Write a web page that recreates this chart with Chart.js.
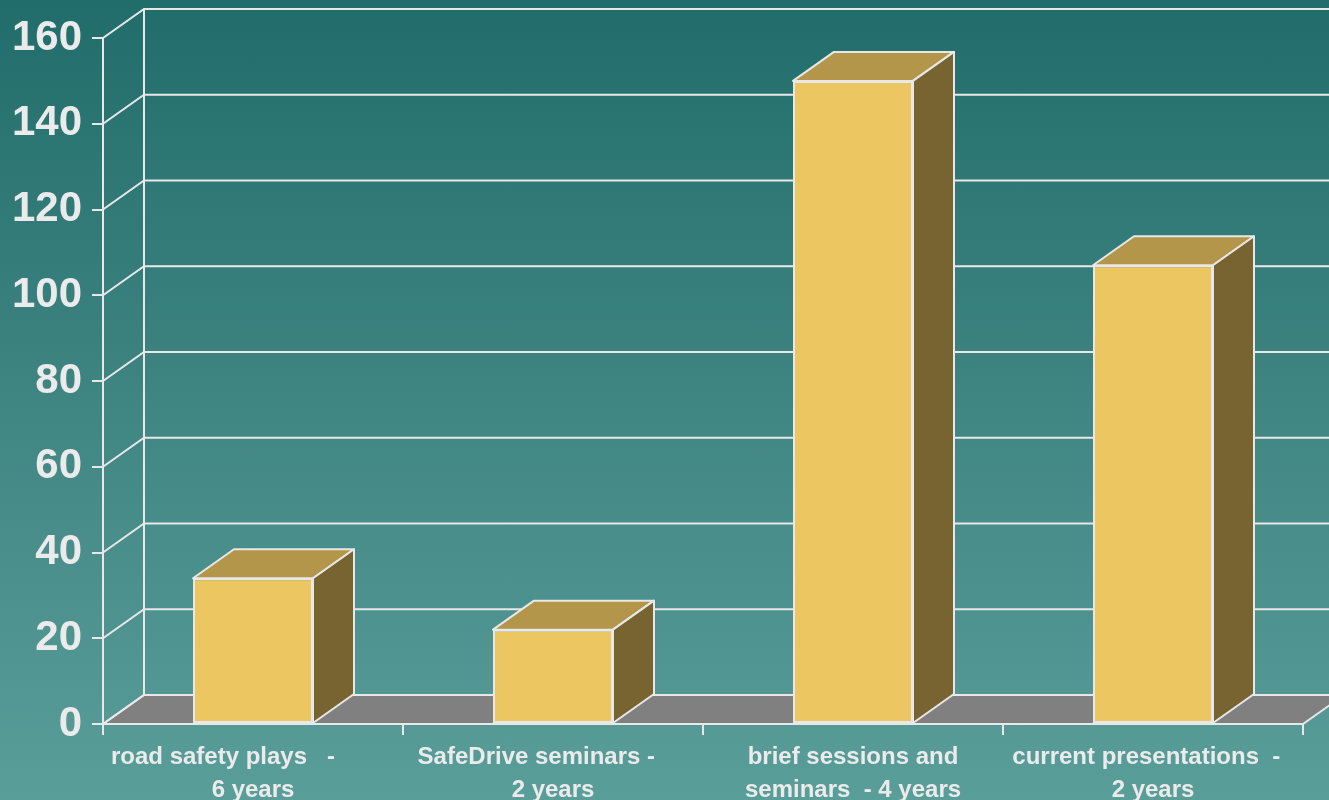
<!DOCTYPE html>
<html>
<head>
<meta charset="utf-8">
<script src="https://cdn.jsdelivr.net/npm/chart.js@4/dist/chart.umd.min.js"></script>
<style>
    html, body { margin: 0; padding: 0; }
    body { width: 1329px; height: 800px; overflow: hidden;
           background: linear-gradient(to bottom, #216d6b 0%, #3f8582 50%, #5a9e9a 100%); }
    canvas { display: block; }
</style>
</head>
<body>
<canvas id="chart" width="1329" height="800"></canvas>
<script>
// chart values
const categories = [
    ['road safety plays   -         ', '6 years'],
    ['SafeDrive seminars -     ', '2 years'],
    ['brief sessions and', 'seminars  - 4 years'],
    ['current presentations  -  ', '2 years']
];
const counts = [34, 22, 150, 107];
const yMin = 0;
const yMax = 160;
const yStep = 20;

const DX = 41, DY = -29;            // depth of the 3D box
const LINE = '#e8e8e8';
const FRONT = '#ecc660', TOP = '#b4964a', SIDE = '#786430', FLOOR = '#808080';

function poly(ctx, pts, fill) {
    ctx.beginPath();
    ctx.moveTo(pts[0][0], pts[0][1]);
    for (let i = 1; i < pts.length; i++) ctx.lineTo(pts[i][0], pts[i][1]);
    ctx.closePath();
    if (fill) { ctx.fillStyle = fill; ctx.fill(); }
    ctx.stroke();
}

const box3d = {
    id: 'box3d',
    beforeDatasetsDraw(chart) {
        const ctx = chart.ctx;
        const { left, right, top, bottom } = chart.chartArea;
        const y = chart.scales.y;
        ctx.save();
        ctx.strokeStyle = LINE;
        ctx.lineWidth = 2;
        // floor
        poly(ctx, [[left, bottom], [right, bottom], [right + DX, bottom + DY], [left + DX, bottom + DY]], FLOOR);
        // back wall grid + diagonals
        y.ticks.forEach(t => {
            const py = y.getPixelForValue(t.value);
            ctx.beginPath();
            ctx.moveTo(left, py);
            ctx.lineTo(left + DX, py + DY);
            ctx.lineTo(chart.width + 5, py + DY);
            ctx.stroke();
        });
        ctx.beginPath();
        ctx.moveTo(left + DX, top + DY);
        ctx.lineTo(left + DX, bottom + DY);
        ctx.stroke();
        ctx.restore();
    },
    afterDatasetsDraw(chart) {
        const ctx = chart.ctx;
        ctx.save();
        ctx.strokeStyle = LINE;
        ctx.lineWidth = 2;
        ctx.lineJoin = 'round';
        chart.getDatasetMeta(0).data.forEach(bar => {
            const l = bar.x - bar.width / 2, r = bar.x + bar.width / 2;
            const t = bar.y, b = bar.base;
            poly(ctx, [[l, t], [r, t], [r + DX, t + DY], [l + DX, t + DY]], TOP);
            poly(ctx, [[r, t], [r + DX, t + DY], [r + DX, b + DY], [r, b]], SIDE);
        });
        ctx.restore();
    }
};

new Chart(document.getElementById('chart'), {
    type: 'bar',
    data: {
        labels: categories,
        datasets: [{
            data: counts,
            backgroundColor: FRONT,
            borderColor: LINE,
            borderWidth: 2,
            borderSkipped: false,
            categoryPercentage: 1,
            barPercentage: 0.4
        }]
    },
    options: {
        responsive: false,
        animation: false,
        layout: { padding: { top: 38, right: 26, left: 0, bottom: 0 } },
        plugins: { legend: { display: false }, tooltip: { enabled: false } },
        scales: {
            x: {
                afterFit: s => { s.height = 76; },
                grid: { drawOnChartArea: false, drawTicks: true, tickLength: 11, color: LINE, lineWidth: 2 },
                border: { display: true, color: LINE, width: 2 },
                ticks: {
                    autoSkip: false, maxRotation: 0, minRotation: 0, padding: 6,
                    color: '#ebebeb',
                    font: { family: '"Liberation Sans", Arial, sans-serif', size: 24, weight: 'bold', lineHeight: 1.375 }
                }
            },
            y: {
                min: yMin, max: yMax,
                afterFit: s => { s.width = 103; },
                grid: { drawOnChartArea: false, drawTicks: true, tickLength: 11, color: LINE, lineWidth: 2 },
                border: { display: true, color: LINE, width: 2 },
                ticks: {
                    stepSize: yStep, padding: 10,
                    color: '#ebebeb',
                    font: { family: '"Liberation Sans", Arial, sans-serif', size: 42, weight: 'bold' }
                }
            }
        }
    },
    plugins: [box3d]
});
</script>
</body>
</html>
